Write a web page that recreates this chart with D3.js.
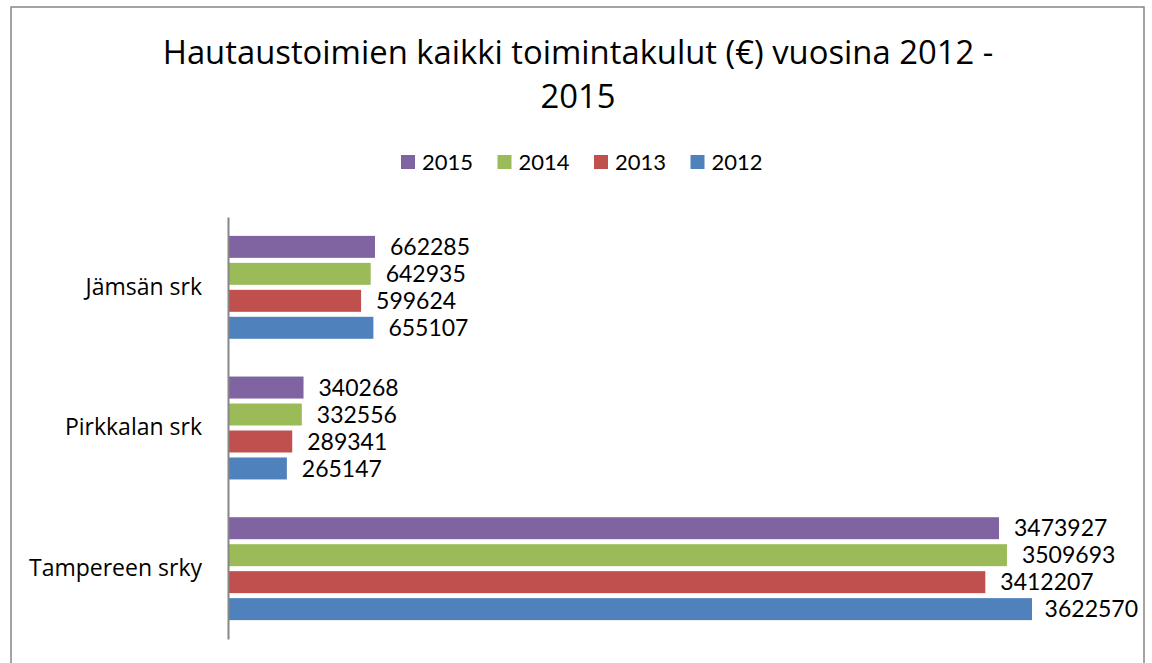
<!DOCTYPE html>
<html><head><meta charset="utf-8">
<script src="https://cdn.jsdelivr.net/npm/d3@7"></script>
<style>body{margin:0;background:#fff}svg{display:block;font-family:Lato,"Noto Sans",sans-serif}</style>
</head><body><svg id="c" width="1152" height="663"></svg>
<script>
const titleLines = ["Hautaustoimien kaikki toimintakulut (€) vuosina 2012 -", "2015"];
const categories = ["Jämsän srk", "Pirkkalan srk", "Tampereen srky"];
const seriesNames = ["2015", "2014", "2013", "2012"];
const seriesColors = ["#8064A2", "#9BBB59", "#C0504D", "#4F81BD"];
const values2015 = [662285, 340268, 3473927];
const values2014 = [642935, 332556, 3509693];
const values2013 = [599624, 289341, 3412207];
const values2012 = [655107, 265147, 3622570];
const seriesValues = [values2015, values2014, values2013, values2012];

const svg = d3.select("#c");
svg.append("rect").attr("x", 11).attr("y", 7).attr("width", 1133).attr("height", 700)
  .attr("fill", "#fff").attr("stroke", "#878787").attr("stroke-width", 1.5);

svg.append("g").selectAll("text").data(titleLines).join("text")
  .attr("x", 578).attr("y", (d, i) => 64 + i * 44)
  .attr("text-anchor", "middle").attr("font-size", 32.8)
  .attr("font-family", "'Open Sans',Lato,sans-serif").attr("fill", "#000").text(d => d);

// legend
const leg = svg.append("g").selectAll("g").data(seriesNames).join("g")
  .attr("transform", (d, i) => `translate(${401 + i * 96.5},155)`);
leg.append("rect").attr("width", 14).attr("height", 14).attr("fill", (d, i) => seriesColors[i]);
leg.append("text").attr("x", 21).attr("y", 7).attr("dy", "0.35em").attr("font-size", 22).text(d => d);

const x = d3.scaleLinear().domain([0, 4000000]).range([228, 228 + 4000000 * (804 / 3622570)]);
const y0 = d3.scaleBand().domain(categories).range([217, 639]);
const y1 = d3.scaleBand().domain(seriesNames).range([0, y0.bandwidth()]).paddingInner(0.185).paddingOuter(0.7);

const rows = categories.map((c, ci) => seriesNames.map((s, si) => ({cat: c, series: s, si, value: seriesValues[si][ci]})));
const groups = svg.append("g").selectAll("g").data(rows).join("g")
  .attr("transform", d => `translate(0,${y0(d[0].cat)})`);
groups.selectAll("rect").data(d => d).join("rect")
  .attr("x", x(0)).attr("y", d => y1(d.series))
  .attr("width", d => x(d.value) - x(0)).attr("height", y1.bandwidth())
  .attr("fill", d => seriesColors[d.si]);
groups.selectAll("text").data(d => d).join("text")
  .attr("y", d => y1(d.series) + y1.bandwidth() / 2).attr("dy", "0.36em")
  .attr("font-size", 23).attr("fill", "#000").text(d => d.value)
  .each(function(d) {
    const w = this.getComputedTextLength();
    let tx = x(d.value) + 15;
    if (tx + w > 1138) tx = 1138 - w;
    d3.select(this).attr("x", tx);
  });

// category axis
const yAxis = svg.append("g").attr("transform", "translate(228,0)")
  .call(d3.axisLeft(y0).tickSize(0).tickPadding(26));
yAxis.select(".domain").attr("stroke", "#868686").attr("stroke-width", 2);
yAxis.selectAll("text").attr("font-size", 23).attr("font-family", "'Open Sans',Lato,sans-serif").attr("fill", "#000");
</script></body></html>
